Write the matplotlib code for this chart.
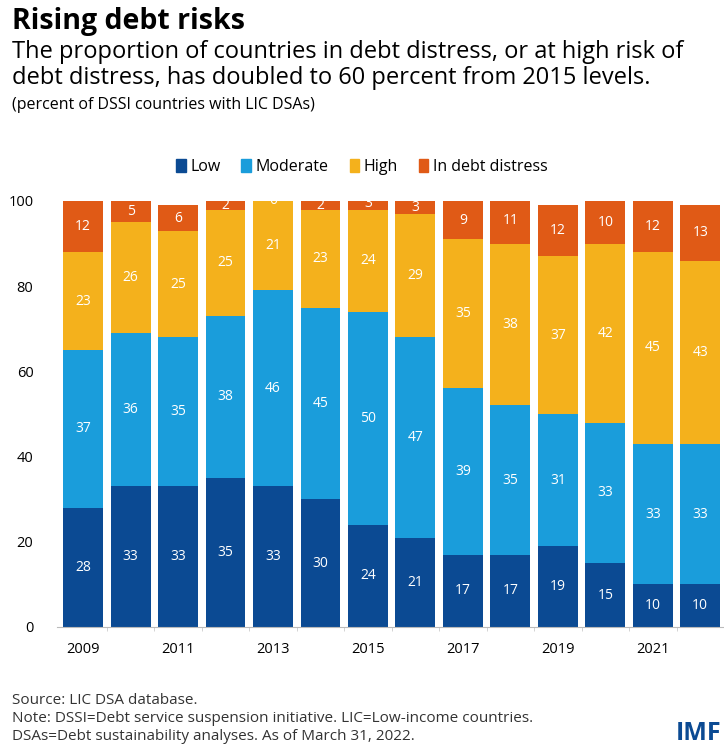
import numpy as np
import matplotlib.pyplot as plt
from matplotlib.patches import Rectangle

years = np.arange(2009, 2023)
low = [28, 33, 33, 35, 33, 30, 24, 21, 17, 17, 19, 15, 10, 10]
moderate = [37, 36, 35, 38, 46, 45, 50, 47, 39, 35, 31, 33, 33, 33]
high = [23, 26, 25, 25, 21, 23, 24, 29, 35, 38, 37, 42, 45, 43]
distress = [12, 5, 6, 2, 0, 2, 3, 3, 9, 11, 12, 10, 12, 13]
series = {'Low': low, 'Moderate': moderate, 'High': high, 'In debt distress': distress}
colors = ['#0b4a93', '#1a9ddb', '#f4b11c', '#e05a16']

plt.rcParams['font.family'] = ['Open Sans', 'DejaVu Sans']

fig = plt.figure(figsize=(7.24, 7.46), dpi=100)
ax = fig.add_axes([57 / 724, 1 - 627 / 746, 667 / 724, 426 / 746])

x = np.arange(len(years))
bottom = np.zeros(len(years))
for (name, vals), c in zip(series.items(), colors):
    vals = np.array(vals)
    ax.bar(x, vals, width=0.84, bottom=bottom, color=c, label=name, zorder=2)
    for xi, b, v in zip(x, bottom, vals):
        ax.text(xi, b + v / 2, str(v), ha='center', va='center', color='white',
                fontsize=10, clip_on=True, zorder=3)
    bottom += vals

ax.set_xlim(-0.55, 13.45)
ax.set_ylim(0, 100)
ax.set_yticks([0, 20, 40, 60, 80, 100])
ax.set_xticks(x[::2])
ax.set_xticklabels([str(y) for y in years[::2]])
ax.set_xticks(x + 0.5, minor=True)
ax.tick_params(axis='x', which='major', length=0, labelsize=10.5, pad=11)
ax.tick_params(axis='x', which='minor', length=3, color='#cccccc')
ax.tick_params(axis='y', length=0, labelsize=10.5, pad=17)
for s in ['top', 'right', 'left']:
    ax.spines[s].set_visible(False)
ax.spines['bottom'].set_color('#bbbbbb')

handles = [Rectangle((0, 0), 1, 1, color=c) for c in colors]
fig.legend(handles, list(series.keys()), loc='center', bbox_to_anchor=(0.5, 1 - 167 / 746),
           ncol=4, frameon=False, fontsize=11.5, handlelength=0.6, handleheight=0.8,
           handletextpad=0.3, columnspacing=1.3)

fig.text(12 / 724, 1 - 22 / 746, 'Rising debt risks', fontsize=20.5, fontweight='bold', va='center')
fig.text(12 / 724, 1 - 52 / 746, 'The proportion of countries in debt distress, or at high risk of',
         fontsize=17, va='center')
fig.text(12 / 724, 1 - 78 / 746, 'debt distress, has doubled to 60 percent from 2015 levels.',
         fontsize=17, va='center')
fig.text(12 / 724, 1 - 105 / 746, '(percent of DSSI countries with LIC DSAs)', fontsize=11.5, va='center')

fig.text(12 / 724, 1 - 700 / 746, 'Source: LIC DSA database.', fontsize=11, va='center', color='#333333')
fig.text(12 / 724, 1 - 718 / 746, 'Note: DSSI=Debt service suspension initiative. LIC=Low-income countries.',
         fontsize=11, va='center', color='#333333')
fig.text(12 / 724, 1 - 736 / 746, 'DSAs=Debt sustainability analyses. As of March 31, 2022.',
         fontsize=11, va='center', color='#333333')
fig.text(676 / 724, 1 - 733 / 746, 'IMF', fontsize=18, fontweight='bold', color='#0b4a93', va='center')

fig.savefig('out.png', dpi=100)
